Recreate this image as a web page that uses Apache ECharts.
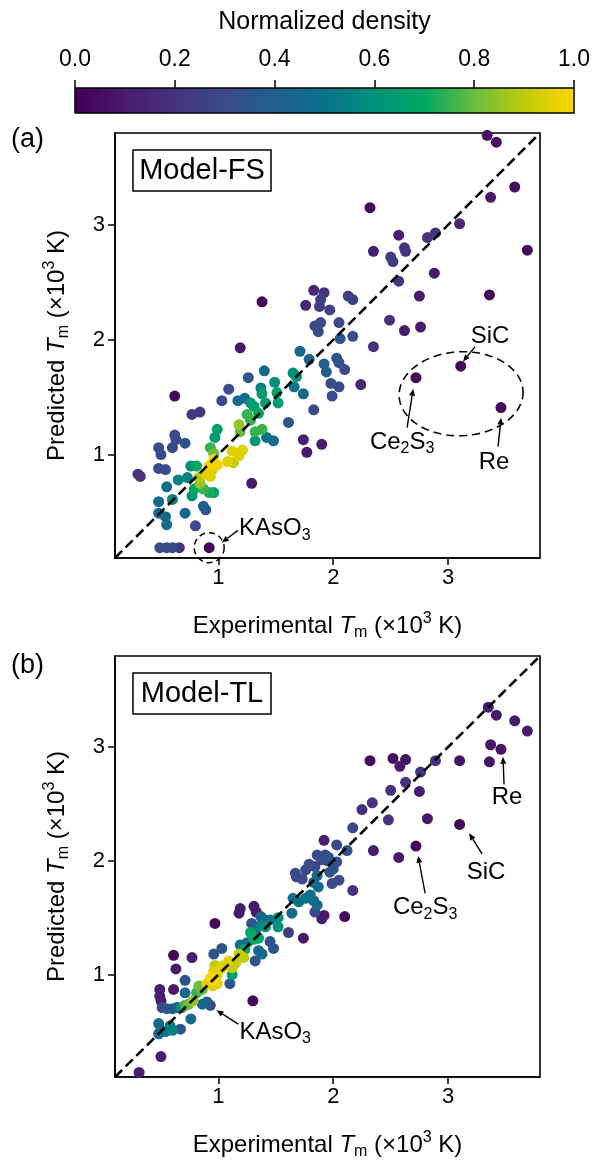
<!DOCTYPE html>
<html>
<head>
<meta charset="utf-8">
<script src="https://cdn.jsdelivr.net/npm/echarts@6/dist/echarts.min.js"></script>
<style>
html,body{margin:0;padding:0;background:#fff}
#c{width:593px;height:1161px}
</style>
</head>
<body>
<div id="c"></div>
<script>
// Melting temperatures (10^3 K): experimental vs predicted, with normalized point density.

// Model-FS
const fsExp = [3.34,3.42,3.58,3.37,3.69,2.32,3.10,2.89,2.82,2.57,2.35,2.62,2.63,2.50,2.52,2.88,2.57,2.75,3.36,2.49,2.62,2.76,
  1.83,1.92,1.76,1.89,1.88,1.97,2.13,2.17,2.05,1.84,1.89,1.87,2.06,2.17,2.35,1.71,1.79,1.92,1.94,2.03,2.05,2.10,1.98,2.05,1.99,2.24,1.90,
  1.38,1.19,0.62,1.40,1.26,1.49,1.65,1.68,1.66,1.37,1.09,1.38,1.03,1.17,1.23,1.41,1.28,1.31,1.35,1.51,1.52,1.25,1.28,1.18,1.19,1.32,1.38,
  1.32,1.42,1.48,0.99,0.97,0.93,0.96,1.12,1.18,1.21,0.96,0.99,0.92,1.08,1.13,0.89,0.93,0.95,0.83,0.84,0.87,0.92,0.96,0.76,0.65,0.73,0.55,
  0.77,0.87,0.48,0.60,1.29,1.61,0.62,0.63,0.60,0.71,0.48,0.50,0.48,0.54,0.77,0.84,0.30,0.32,0.54,0.48,0.55,0.71,0.80,0.89,0.49,0.55,0.60,
  0.66,0.92,1.74,1.77,1.83,1.74,0.81,0.79,3.11,2.72,3.46];
const fsPred = [3.78,3.72,3.33,3.24,2.78,3.15,3.01,2.93,2.89,2.91,2.77,2.80,2.77,2.72,2.68,2.58,2.51,2.38,2.39,2.17,2.08,2.11,
  2.43,2.41,2.30,2.35,2.29,2.26,2.38,2.35,2.15,2.12,2.15,2.07,2.01,2.03,1.94,1.90,1.83,1.79,1.72,1.84,1.80,1.74,1.62,1.59,1.51,1.61,1.09,
  2.33,1.93,1.51,1.73,1.67,1.63,1.71,1.68,1.59,1.58,1.57,1.53,1.47,1.47,1.49,1.45,1.45,1.42,1.36,1.54,1.45,1.35,1.30,1.26,1.20,1.20,1.22,
  1.12,1.15,1.12,1.22,1.15,1.06,1.01,1.03,0.99,1.04,0.96,0.91,0.90,0.94,0.93,0.83,0.81,0.87,0.80,0.75,0.70,0.67,0.67,0.90,0.78,0.80,0.72,
  0.64,0.55,0.59,0.61,0.75,1.28,1.17,1.13,1.06,1.10,1.06,1.00,0.88,0.87,1.35,1.37,0.83,0.81,0.46,0.49,0.39,0.49,0.38,0.52,0.19,0.19,0.19,
  0.19,0.19,1.13,1.02,1.39,1.53,0.90,0.70,1.77,1.67,1.41];
const fsDensity = [0.05,0.05,0.05,0.10,0.03,0.03,0.15,0.20,0.20,0.12,0.12,0.20,0.20,0.25,0.25,0.10,0.20,0.10,0.03,0.20,0.10,0.10,
  0.15,0.20,0.15,0.25,0.25,0.28,0.25,0.25,0.30,0.30,0.30,0.30,0.35,0.30,0.20,0.45,0.42,0.40,0.40,0.35,0.35,0.30,0.30,0.30,0.30,0.15,0.10,
  0.02,0.10,0.03,0.45,0.35,0.60,0.60,0.60,0.50,0.55,0.30,0.65,0.30,0.45,0.45,0.65,0.62,0.65,0.70,0.65,0.65,0.75,0.75,0.85,0.80,0.75,0.75,
  0.62,0.50,0.45,0.65,0.65,0.75,0.80,0.95,0.95,0.95,0.98,0.98,0.98,0.95,0.90,0.95,0.95,0.95,0.88,0.85,0.75,0.72,0.70,0.60,0.55,0.55,0.48,
  0.62,0.40,0.45,0.55,0.10,0.35,0.30,0.30,0.30,0.35,0.30,0.30,0.30,0.30,0.22,0.22,0.20,0.20,0.45,0.45,0.45,0.45,0.30,0.35,0.30,0.30,0.30,
  0.22,0.02,0.12,0.10,0.30,0.45,0.70,0.70,0.03,0.03,0.03];

// Model-TL
const tlExp = [3.35,3.42,3.58,3.69,3.37,3.46,3.36,3.10,2.89,2.76,2.32,2.52,2.63,2.58,2.63,2.50,2.75,2.34,2.25,2.48,2.82,3.10,2.17,2.35,
  2.57,2.72,1.92,2.03,2.12,1.93,1.95,2.03,1.97,2.05,1.99,2.17,1.92,1.90,2.10,1.86,1.90,1.96,2.00,1.76,1.68,1.73,1.86,1.83,1.87,1.65,1.70,
  1.76,1.83,1.80,1.64,1.84,1.19,1.18,1.31,1.33,0.97,1.37,1.41,1.45,1.52,1.52,1.29,1.37,1.32,1.41,1.28,1.35,1.31,1.25,1.23,1.19,1.45,1.48,
  1.35,1.38,1.61,1.74,1.18,1.22,1.15,1.03,0.96,1.32,1.09,1.05,1.12,0.97,0.99,1.02,0.96,1.12,0.93,0.96,0.90,0.99,0.95,0.83,0.86,0.81,1.10,
  0.71,0.77,0.61,0.63,0.61,0.71,0.49,0.49,0.50,0.51,0.55,0.60,0.64,0.68,0.71,0.74,0.78,0.86,0.90,0.93,0.76,0.67,0.48,0.50,0.48,0.54,0.58,
  0.60,0.50,0.31,1.30,1.79,1.84,1.67,1.86];
const tlPred = [3.35,3.28,3.23,3.14,3.02,2.98,2.87,2.88,2.88,2.78,2.88,2.90,2.89,2.83,2.69,2.62,2.61,2.51,2.45,2.36,2.37,2.32,2.29,2.09,
  2.03,2.13,2.18,2.14,2.09,2.05,2.00,1.99,1.90,1.83,1.80,1.74,1.52,1.49,1.51,2.05,2.01,2.03,1.93,1.92,1.86,1.84,1.87,1.81,1.77,1.67,1.64,
  1.67,1.65,1.70,1.54,1.55,1.58,1.54,1.60,1.55,1.45,1.51,1.48,1.48,1.50,1.42,1.45,1.43,1.38,1.42,1.37,1.32,1.31,1.28,1.22,1.26,1.29,1.23,
  1.21,1.18,1.37,1.32,1.18,1.15,1.10,1.23,1.18,1.12,1.12,1.08,1.06,1.08,1.00,1.05,1.03,1.00,0.97,0.95,0.92,0.92,0.90,0.90,0.87,0.84,0.92,
  0.95,1.15,1.17,1.05,0.87,0.84,0.87,0.81,0.77,0.71,0.70,0.70,0.71,0.71,0.73,0.74,0.77,0.74,0.76,0.73,0.61,0.52,0.57,0.51,0.48,0.50,0.55,
  0.51,0.28,0.14,0.77,1.97,1.95,1.89,1.61];
const tlDensity = [0.10,0.10,0.10,0.10,0.08,0.08,0.08,0.08,0.20,0.20,0.03,0.05,0.05,0.10,0.20,0.20,0.10,0.20,0.20,0.20,0.08,0.03,0.30,0.12,
  0.10,0.03,0.12,0.30,0.35,0.30,0.30,0.30,0.35,0.30,0.30,0.20,0.12,0.12,0.03,0.30,0.30,0.35,0.35,0.30,0.25,0.30,0.45,0.45,0.45,0.50,0.50,
  0.50,0.45,0.45,0.45,0.30,0.10,0.10,0.10,0.10,0.02,0.40,0.50,0.50,0.60,0.60,0.35,0.55,0.50,0.60,0.70,0.70,0.70,0.50,0.70,0.50,0.35,0.35,
  0.45,0.45,0.25,0.10,0.90,0.90,0.90,0.35,0.35,0.35,0.95,0.95,0.90,0.90,0.95,0.95,0.95,0.65,1.00,1.00,0.95,0.95,0.95,0.80,0.80,0.75,0.35,
  0.35,0.12,0.03,0.10,0.10,0.45,0.12,0.12,0.12,0.30,0.35,0.35,0.40,0.60,0.75,0.80,0.85,0.45,0.40,0.30,0.45,0.35,0.45,0.45,0.45,0.50,0.55,
  0.55,0.12,0.12,0.03,0.30,0.30,0.30,0.45];

const majorTicks = [1, 2, 3];
const densityTicks = [0, 0.2, 0.4, 0.6, 0.8, 1.0];
const axisRange = [0.1, 3.8];

const FONT = '"Liberation Sans", Arial, sans-serif';
const cmap = ['#440154','#481a6c','#46327e','#3b4a8a','#1f5f8c','#0b728b','#00917b','#00a862','#6cbd3f','#c0cb0a','#ffd600'];

// draw denser points last so they sit on top
function toPoints(xs, ys, ds) {
  const idx = xs.map((_, i) => i).sort((a, b) => ds[a] - ds[b]);
  return idx.map(i => [xs[i], ys[i], ds[i]]);
}

const nameRich = {
  n: {fontSize: 24, fontFamily: FONT, color: '#000', lineHeight: 30, verticalAlign: 'middle'},
  i: {fontSize: 24, fontFamily: FONT, color: '#000', fontStyle: 'italic', lineHeight: 30, verticalAlign: 'middle'},
  s: {fontSize: 16, fontFamily: FONT, color: '#000', lineHeight: 16, verticalAlign: 'bottom'},
  p: {fontSize: 16, fontFamily: FONT, color: '#000', lineHeight: 16, verticalAlign: 'top'}
};

function panelX(g) {
  return {
    gridIndex: g, type: 'value', min: axisRange[0], max: axisRange[1],
    axisLine: {show: true, onZero: false, lineStyle: {color: '#000', width: 1.6}},
    axisTick: {show: true, inside: false, length: 7, customValues: majorTicks, lineStyle: {color: '#000', width: 1.5}},
    axisLabel: {fontSize: 22, fontFamily: FONT, color: '#000', margin: 9, customValues: majorTicks},
    splitLine: {show: false},
    name: '{n|Experimental }{i|T}{s|m}{n| (×10}{p|3}{n| K)}',
    nameLocation: 'middle', nameGap: 53,
    nameTextStyle: {rich: nameRich}
  };
}
function panelY(g) {
  return {
    gridIndex: g, type: 'value', min: axisRange[0], max: axisRange[1],
    axisLine: {show: true, onZero: false, lineStyle: {color: '#000', width: 1.6}},
    axisTick: {show: true, inside: false, length: 7, customValues: majorTicks, lineStyle: {color: '#000', width: 1.5}},
    axisLabel: {fontSize: 22, fontFamily: FONT, color: '#000', margin: 10, customValues: majorTicks},
    splitLine: {show: false},
    name: '{n|Predicted }{i|T}{s|m}{n| (×10}{p|3}{n| K)}',
    nameLocation: 'middle', nameGap: 43,
    nameTextStyle: {rich: nameRich}
  };
}

const barGradient = new echarts.graphic.LinearGradient(0, 0, 1, 0,
  cmap.map((c, i) => ({offset: i / (cmap.length - 1), color: c})));

function diagonal(g) {
  return {
    type: 'line', xAxisIndex: g, yAxisIndex: g, data: [[axisRange[0], axisRange[0]], [axisRange[1], axisRange[1]]],
    symbol: 'none', silent: true, z: 5, animation: false,
    lineStyle: {color: '#000', width: 2.6, type: [10, 5]}
  };
}

const chart = echarts.init(document.getElementById('c'), null, {renderer: 'canvas'});
chart.setOption({
  animation: false,
  backgroundColor: '#fff',
  textStyle: {fontFamily: FONT},
  grid: [
    {left: 75, top: 88, width: 500, height: 25, show: true, backgroundColor: barGradient, borderColor: '#000', borderWidth: 1.5},
    {left: 115, top: 133, width: 425, height: 425, show: true, borderColor: '#000', borderWidth: 1.6, backgroundColor: 'transparent'},
    {left: 115, top: 656, width: 425, height: 425, show: true, borderColor: '#000', borderWidth: 1.6, backgroundColor: 'transparent'}
  ],
  xAxis: [
    {
      gridIndex: 0, type: 'value', position: 'top', min: 0, max: 1, interval: 0.2,
      axisLine: {show: false, onZero: false},
      axisTick: {show: true, inside: false, length: 8, customValues: densityTicks, lineStyle: {color: '#000', width: 1.5}},
      axisLabel: {fontSize: 23, fontFamily: FONT, color: '#000', margin: 17, customValues: densityTicks, formatter: v => v.toFixed(1)},
      splitLine: {show: false},
      name: 'Normalized density', nameLocation: 'middle', nameGap: 53,
      nameTextStyle: {fontSize: 25, fontFamily: FONT, color: '#000'}
    },
    panelX(1), panelX(2)
  ],
  yAxis: [
    {gridIndex: 0, type: 'value', show: false, min: 0, max: 1},
    panelY(1), panelY(2)
  ],
  visualMap: {
    type: 'continuous', show: false, min: 0, max: 1, dimension: 2, seriesIndex: [0, 1],
    inRange: {color: cmap}
  },
  series: [
    {type: 'scatter', name: 'Model-FS', xAxisIndex: 1, yAxisIndex: 1, symbolSize: 11, z: 2,
     itemStyle: {opacity: 1}, data: toPoints(fsExp, fsPred, fsDensity)},
    {type: 'scatter', name: 'Model-TL', xAxisIndex: 2, yAxisIndex: 2, symbolSize: 11, z: 2,
     itemStyle: {opacity: 1}, data: toPoints(tlExp, tlPred, tlDensity)},
    diagonal(1), diagonal(2)
  ]
});

// ---- annotations (positions in data units) ----
const annRich = {
  n: {fontSize: 24, fontFamily: FONT, color: '#000', lineHeight: 30, verticalAlign: 'middle'},
  s: {fontSize: 16, fontFamily: FONT, color: '#000', lineHeight: 16, verticalAlign: 'bottom'}
};
const labelsFS = [
  {text: '{n|KAsO}{s|3}', at: [1.18, 0.36], align: 'left', from: [1.17, 0.34], to: [1.03, 0.235]},
  {text: '{n|SiC}', at: [3.365, 2.03], align: 'center', from: [3.235, 1.94], to: [3.13, 1.81]},
  {text: '{n|Ce}{s|2}{n|S}{s|3}', at: [2.60, 1.11], align: 'center', from: [2.643, 1.235], to: [2.696, 1.574]},
  {text: '{n|Re}', at: [3.40, 0.93], align: 'center', from: [3.435, 1.07], to: [3.461, 1.322]}
];
const labelsTL = [
  {text: '{n|Re}', at: [3.513, 2.557], align: 'center', from: [3.487, 2.67], to: [3.478, 2.913]},
  {text: '{n|SiC}', at: [3.33, 1.896], align: 'center', from: [3.296, 2.061], to: [3.183, 2.243]},
  {text: '{n|Ce}{s|2}{n|S}{s|3}', at: [2.80, 1.591], align: 'center', from: [2.80, 1.713], to: [2.739, 2.043]},
  {text: '{n|KAsO}{s|3}', at: [1.183, 0.496], align: 'left', from: [1.174, 0.565], to: [0.983, 0.687]}
];

function px(g, p) { return chart.convertToPixel({xAxisIndex: g, yAxisIndex: g}, p); }

function arrow(a, b) {
  const dx = b[0] - a[0], dy = b[1] - a[1], L = Math.hypot(dx, dy), ux = dx / L, uy = dy / L;
  const hl = 7, hw = 3;
  const base = [b[0] - ux * hl, b[1] - uy * hl];
  return [
    {type: 'line', silent: true, z: 100, shape: {x1: a[0], y1: a[1], x2: base[0], y2: base[1]}, style: {stroke: '#000', lineWidth: 1.4}},
    {type: 'polygon', silent: true, z: 100, shape: {points: [b, [base[0] - uy * hw, base[1] + ux * hw], [base[0] + uy * hw, base[1] - ux * hw]]}, style: {fill: '#000'}}
  ];
}

function labelGraphics(g, list) {
  const out = [];
  list.forEach(l => {
    const p = px(g, l.at);
    out.push({type: 'text', x: p[0], y: p[1], z: 100, silent: true,
      style: {text: l.text, rich: annRich, align: l.align, verticalAlign: 'middle', fill: '#000'}});
    out.push(...arrow(px(g, l.from), px(g, l.to)));
  });
  return out;
}

function ellipsePoints(c, rx, ry, rot) {
  const pts = [];
  for (let k = 0; k <= 120; k++) {
    const t = k / 120 * Math.PI * 2;
    const x = rx * Math.cos(t), y = ry * Math.sin(t);
    pts.push([c[0] + x * Math.cos(rot) - y * Math.sin(rot), c[1] + x * Math.sin(rot) + y * Math.cos(rot)]);
  }
  return pts;
}

function modelBox(x, y, text) {
  return [
    {type: 'rect', z: 100, silent: true, shape: {x: x, y: y, width: 138, height: 41}, style: {fill: '#fff', stroke: '#000', lineWidth: 1.5}},
    {type: 'text', z: 101, silent: true, x: x + 69, y: y + 21,
     style: {text: text, font: '29px ' + FONT, fill: '#000', align: 'center', verticalAlign: 'middle'}}
  ];
}

const kas = px(1, [0.92, 0.19]);
const outlier = px(1, [3.113, 1.53]);
const graphics = [
  {type: 'text', x: 11, y: 140, silent: true, style: {text: '(a)', font: '27px ' + FONT, fill: '#000', align: 'left', verticalAlign: 'middle'}},
  {type: 'text', x: 11, y: 666, silent: true, style: {text: '(b)', font: '27px ' + FONT, fill: '#000', align: 'left', verticalAlign: 'middle'}},
  ...modelBox(133, 150, 'Model-FS'),
  ...modelBox(133, 673, 'Model-TL'),
  {type: 'circle', z: 100, silent: true, shape: {cx: kas[0], cy: kas[1], r: 15}, style: {fill: 'none', stroke: '#000', lineWidth: 1.5, lineDash: [6, 4]}},
  {type: 'polyline', z: 100, silent: true, shape: {points: ellipsePoints(outlier, 62, 42, -0.04)}, style: {fill: 'none', stroke: '#000', lineWidth: 1.6, lineDash: [8, 5]}},
  ...labelGraphics(1, labelsFS),
  ...labelGraphics(2, labelsTL)
];
chart.setOption({graphic: graphics});
</script>
</body>
</html>
